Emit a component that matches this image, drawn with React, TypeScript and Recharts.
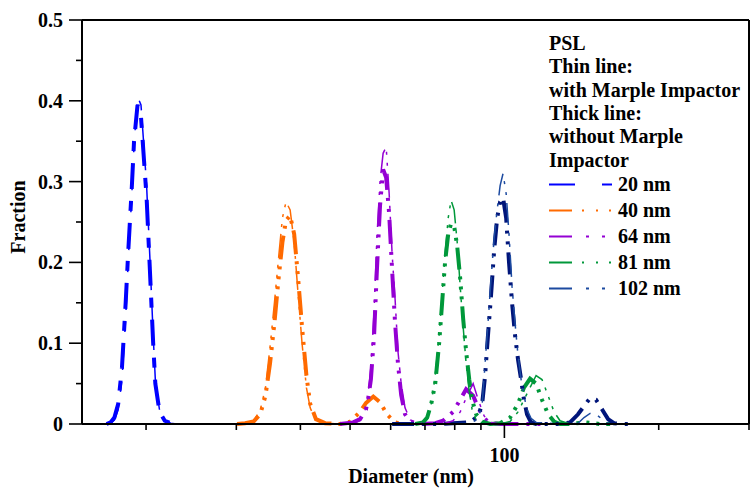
import React from 'react';
import { LineChart, Line, XAxis, YAxis, Legend } from 'recharts';

// ---- series meta ----
const sizeLabels = ['20 nm', '40 nm', '64 nm', '81 nm', '102 nm'];
const thinColors = ['#0000ff', '#ff6a00', '#9400d3', '#00983a', '#1c4aa0'];
const thickColors = ['#0000ff', '#ff6a00', '#9400d3', '#00983a', '#00157a'];
const headerLines = ['PSL', 'Thin line:', 'with Marple Impactor', 'Thick line:', 'without Marple', 'Impactor'];

// ---- data: diameters (nm) and fractions ----
const d20 = [16.75, 17.05, 17.35, 17.65, 17.95, 18.25, 18.45, 18.75, 18.95, 19.25, 19.55, 19.75, 20.05, 20.35, 20.65, 20.85, 21.25, 21.75, 22.35, 22.95];
const f20Thin = [0, 0.001, 0.005, 0.018, 0.055, 0.13, 0.2, 0.28, 0.345, 0.405, 0.395, 0.355, 0.295, 0.205, 0.11, 0.055, 0.017, 0.004, 0.001, 0];
const f20Thick = [0, 0.002, 0.008, 0.025, 0.07, 0.15, 0.21, 0.29, 0.35, 0.395, 0.38, 0.34, 0.28, 0.19, 0.1, 0.05, 0.015, 0.004, 0.001, 0];

const d40 = [30.1, 31.2, 32.4, 33.4, 34.2, 34.9, 35.6, 36.2, 36.9, 37.5, 38.2, 38.9, 39.6, 40.3, 41.1, 41.8, 42.9, 44.7, 47.8, 50.0, 52.3, 53.7, 55.5, 57.2, 59.0, 61.2, 63.0];
const f40Thin = [0, 0.001, 0.004, 0.017, 0.045, 0.095, 0.15, 0.2, 0.255, 0.275, 0.265, 0.225, 0.16, 0.1, 0.045, 0.02, 0.004, 0.001, 0, 0, 0, null, null, null, null, null, null];
const f40Thick = [0, 0.001, 0.003, 0.012, 0.035, 0.075, 0.125, 0.175, 0.225, 0.252, 0.258, 0.235, 0.18, 0.12, 0.06, 0.025, 0.006, 0.001, 0, 0.003, 0.015, 0.026, 0.034, 0.027, 0.012, 0.002, 0];

const d64 = [47.8, 50.7, 52.3, 53.7, 54.2, 54.9, 55.7, 56.4, 57.2, 58.0, 58.8, 59.6, 60.4, 61.2, 62.0, 62.9, 64.0, 65.5, 68.5, 73.3, 75.9, 79.4, 82.0, 84.2, 86.9, 88.9, 91.3, 93.8, 98.1, 107.3, 120.1];
const f64Thin = [0, 0.001, 0.004, 0.02, 0.035, 0.07, 0.14, 0.23, 0.3, 0.335, 0.343, 0.285, 0.21, 0.155, 0.09, 0.05, 0.02, 0.005, 0.001, 0, 0, 0.004, 0.015, 0.032, 0.05, 0.03, 0.01, 0.002, 0, 0, 0];
const f64Thick = [0, 0.002, 0.006, 0.018, 0.03, 0.055, 0.11, 0.19, 0.27, 0.315, 0.305, 0.26, 0.19, 0.125, 0.075, 0.036, 0.012, 0.003, 0, 0.001, 0.004, 0.015, 0.03, 0.043, 0.035, 0.02, 0.007, 0.001, 0, 0, 0];

const d81 = [67.0, 69.4, 70.7, 72.0, 73.3, 74.6, 75.6, 76.6, 77.7, 78.7, 79.8, 80.9, 82.0, 83.1, 84.2, 85.4, 86.5, 88.1, 90.5, 93.8, 98.1, 102.6, 106.3, 109.2, 112.2, 115.3, 118.4, 121.7, 125.0, 128.4, 134.3, 143.7, 153.7, 160.8];
const f81Thin = [0, 0.001, 0.006, 0.025, 0.06, 0.11, 0.16, 0.21, 0.255, 0.277, 0.265, 0.225, 0.17, 0.12, 0.075, 0.04, 0.018, 0.005, 0.001, 0, 0, 0.003, 0.015, 0.03, 0.045, 0.06, 0.055, 0.035, 0.015, 0.004, 0, 0, 0, 0];
const f81Thick = [0, 0.002, 0.008, 0.025, 0.05, 0.1, 0.15, 0.2, 0.235, 0.248, 0.245, 0.22, 0.18, 0.13, 0.09, 0.055, 0.03, 0.012, 0.003, 0, 0.001, 0.008, 0.025, 0.045, 0.056, 0.05, 0.03, 0.012, 0.003, 0, 0, 0.002, 0, 0];

const d102 = [60.4, 75.0, 85.7, 88.9, 90.5, 91.7, 92.9, 94.2, 95.5, 96.8, 98.1, 99.4, 100.8, 102.1, 103.5, 104.9, 106.3, 107.8, 109.2, 110.7, 112.7, 115.3, 128.4, 134.3, 139.2, 143.0, 146.9, 150.9, 155.1, 159.3, 163.6, 169.6, 179.8];
const f102Thin = [0, 0, 0.001, 0.006, 0.025, 0.075, 0.125, 0.18, 0.23, 0.265, 0.295, 0.31, 0.285, 0.235, 0.17, 0.125, 0.085, 0.055, 0.035, 0.018, 0.007, 0.002, 0, 0, 0.001, 0.008, 0.013, 0.012, 0.006, 0.001, 0, 0, 0];
const f102Thick = [0, 0, 0.002, 0.01, 0.025, 0.06, 0.11, 0.16, 0.215, 0.255, 0.275, 0.28, 0.255, 0.2, 0.15, 0.11, 0.08, 0.055, 0.03, 0.012, 0.002, 0, 0, 0.002, 0.012, 0.022, 0.032, 0.03, 0.018, 0.006, 0.001, 0, 0];

const diameterSets = [d20, d40, d64, d81, d102];
const thinSets = [f20Thin, f40Thin, f64Thin, f81Thin, f102Thin];
const thickSets = [f20Thick, f40Thick, f64Thick, f81Thick, f102Thick];

// ---- ticks ----
const xTicksBottom = [20, 30, 40, 50, 60, 70, 80, 90, 100, 200, 300];
const xTicksTop = [10, 20, 30, 40, 50, 60, 70, 80, 90, 100, 200, 300];
const yTicksLeft = [0, 0.05, 0.1, 0.15, 0.2, 0.25, 0.3, 0.35, 0.4, 0.45, 0.5];
const yTicksRight = [0, 1, 2, 3, 4, 5, 6, 7, 8];

// ---- styles ----
const FONT = '"Liberation Serif", "Times New Roman", serif';
const dashPatterns = ['26 12 10 12', '24 7 3 7 3 7 3 7', '24 8 3 8 3 8', '22 7 3 7 3 7 3 7', '22 8 3 8 3 8'];
const legendDash = ['26 27 10 20', '23 10 2 12 2 11 2 20', '23 14 3 13 3 20', '23 10 2 12 2 11 2 20', '23 14 3 13 3 20'];

const build = (d: number[], f: (number | null)[]) => d.map((x, i) => ({ d: x, f: f[i] }));

const BottomTick = (props: any) => {
  const { x, y, payload } = props;
  const major = payload.value === 100;
  return (
    <g>
      <line x1={x} x2={x} y1={y} y2={y + (major ? 14 : 6)} stroke="#000" strokeWidth={1.6} />
      {major && (
        <text x={x} y={y + 38} textAnchor="middle" fontFamily={FONT} fontWeight="bold" fontSize={20} fill="#000">
          100
        </text>
      )}
    </g>
  );
};

const TopTick = (props: any) => {
  const { x, y, payload } = props;
  const major = payload.value === 10 || payload.value === 100;
  return <line x1={x} x2={x} y1={y} y2={y - (major ? 13 : 6)} stroke="#000" strokeWidth={1.6} />;
};

const LeftTick = (props: any) => {
  const { x, y, payload } = props;
  const v = payload.value as number;
  const major = Math.abs(v * 10 - Math.round(v * 10)) < 1e-6;
  return (
    <g>
      <line x1={x - (major ? 13 : 6)} x2={x} y1={y} y2={y} stroke="#000" strokeWidth={1.6} />
      {major && (
        <text x={x - 19} y={y + 7} textAnchor="end" fontFamily={FONT} fontWeight="bold" fontSize={20} fill="#000">
          {v === 0 ? '0' : v.toFixed(1)}
        </text>
      )}
    </g>
  );
};

const RightTick = (props: any) => {
  const { x, y } = props;
  return <line x1={x} x2={x + 6} y1={y} y2={y} stroke="#000" strokeWidth={1.6} />;
};

const renderLegend = () => (
  <svg width={212} height={300} style={{ display: 'block' }}>
    {headerLines.map((t, i) => (
      <text key={t} x={9} y={50 + i * 23.3} fontFamily={FONT} fontWeight="bold" fontSize={20} fill="#000">
        {t}
      </text>
    ))}
    {sizeLabels.map((t, i) => {
      const by = 191 + i * 26;
      return (
        <g key={t}>
          <line x1={9} x2={72} y1={by - 6.5} y2={by - 6.5} stroke={thinColors[i]} strokeWidth={2.2} strokeDasharray={legendDash[i]} />
          <text x={78} y={by} fontFamily={FONT} fontWeight="bold" fontSize={20} fill="#000">
            {t}
          </text>
        </g>
      );
    })}
  </svg>
);

const xLabel = () => (
  <text x={411} y={483} textAnchor="middle" fontFamily={FONT} fontWeight="bold" fontSize={20} fill="#000">
    Diameter (nm)
  </text>
);

const yLabel = () => (
  <text x={25} y={217} transform="rotate(-90, 25, 217)" textAnchor="middle" fontFamily={FONT} fontWeight="bold" fontSize={20} fill="#000">
    Fraction
  </text>
);

export default function App() {
  return (
    <div style={{ position: 'absolute', left: 0, top: 0, width: 752, height: 490, background: '#fff' }}>
      <LineChart width={752} height={490} margin={{ top: 0, right: 0, bottom: 0, left: 0 }}>
        <XAxis
          xAxisId="bottom"
          dataKey="d"
          type="number"
          scale="log"
          domain={[15, 300]}
          allowDataOverflow
          ticks={xTicksBottom}
          interval={0}
          height={66}
          tickSize={0}
          tickMargin={0}
          tickLine={false}
          tick={<BottomTick />}
          axisLine={{ stroke: '#000', strokeWidth: 2 }}
          label={xLabel}
        />
        <XAxis
          xAxisId="top"
          orientation="top"
          type="number"
          scale="log"
          domain={[10, 300]}
          allowDataOverflow
          ticks={xTicksTop}
          interval={0}
          height={20}
          tickSize={0}
          tickMargin={0}
          tickLine={false}
          tick={<TopTick />}
          axisLine={{ stroke: '#000', strokeWidth: 2 }}
        />
        <YAxis
          yAxisId="left"
          type="number"
          domain={[0, 0.5]}
          ticks={yTicksLeft}
          interval={0}
          width={82}
          tickSize={0}
          tickMargin={0}
          tickLine={false}
          tick={<LeftTick />}
          axisLine={{ stroke: '#000', strokeWidth: 2 }}
          label={yLabel}
        />
        <YAxis
          yAxisId="right"
          orientation="right"
          type="number"
          domain={[0, 8]}
          ticks={yTicksRight}
          interval={0}
          width={3}
          tickSize={0}
          tickMargin={0}
          tickLine={false}
          tick={<RightTick />}
          axisLine={{ stroke: '#000', strokeWidth: 2 }}
        />
        <Legend
          content={renderLegend}
          layout="vertical"
          align="center"
          verticalAlign="middle"
          wrapperStyle={{ left: 540, top: 0, width: 212, height: 300 }}
        />
        {sizeLabels.map((s, i) => (
          <Line
            key={'thick' + s}
            xAxisId="bottom"
            yAxisId="left"
            data={build(diameterSets[i], thickSets[i])}
            dataKey="f"
            name={s + ' thick'}
            type="linear"
            stroke={thickColors[i]}
            strokeWidth={4}
            strokeDasharray={dashPatterns[i]}
            dot={false}
            activeDot={false}
            isAnimationActive={false}
          />
        ))}
        {sizeLabels.map((s, i) => (
          <Line
            key={'thin' + s}
            xAxisId="bottom"
            yAxisId="left"
            data={build(diameterSets[i], thinSets[i])}
            dataKey="f"
            name={s + ' thin'}
            type="linear"
            stroke={thinColors[i]}
            strokeWidth={1.5}
            strokeDasharray={dashPatterns[i]}
            dot={false}
            activeDot={false}
            isAnimationActive={false}
          />
        ))}
      </LineChart>
    </div>
  );
}
